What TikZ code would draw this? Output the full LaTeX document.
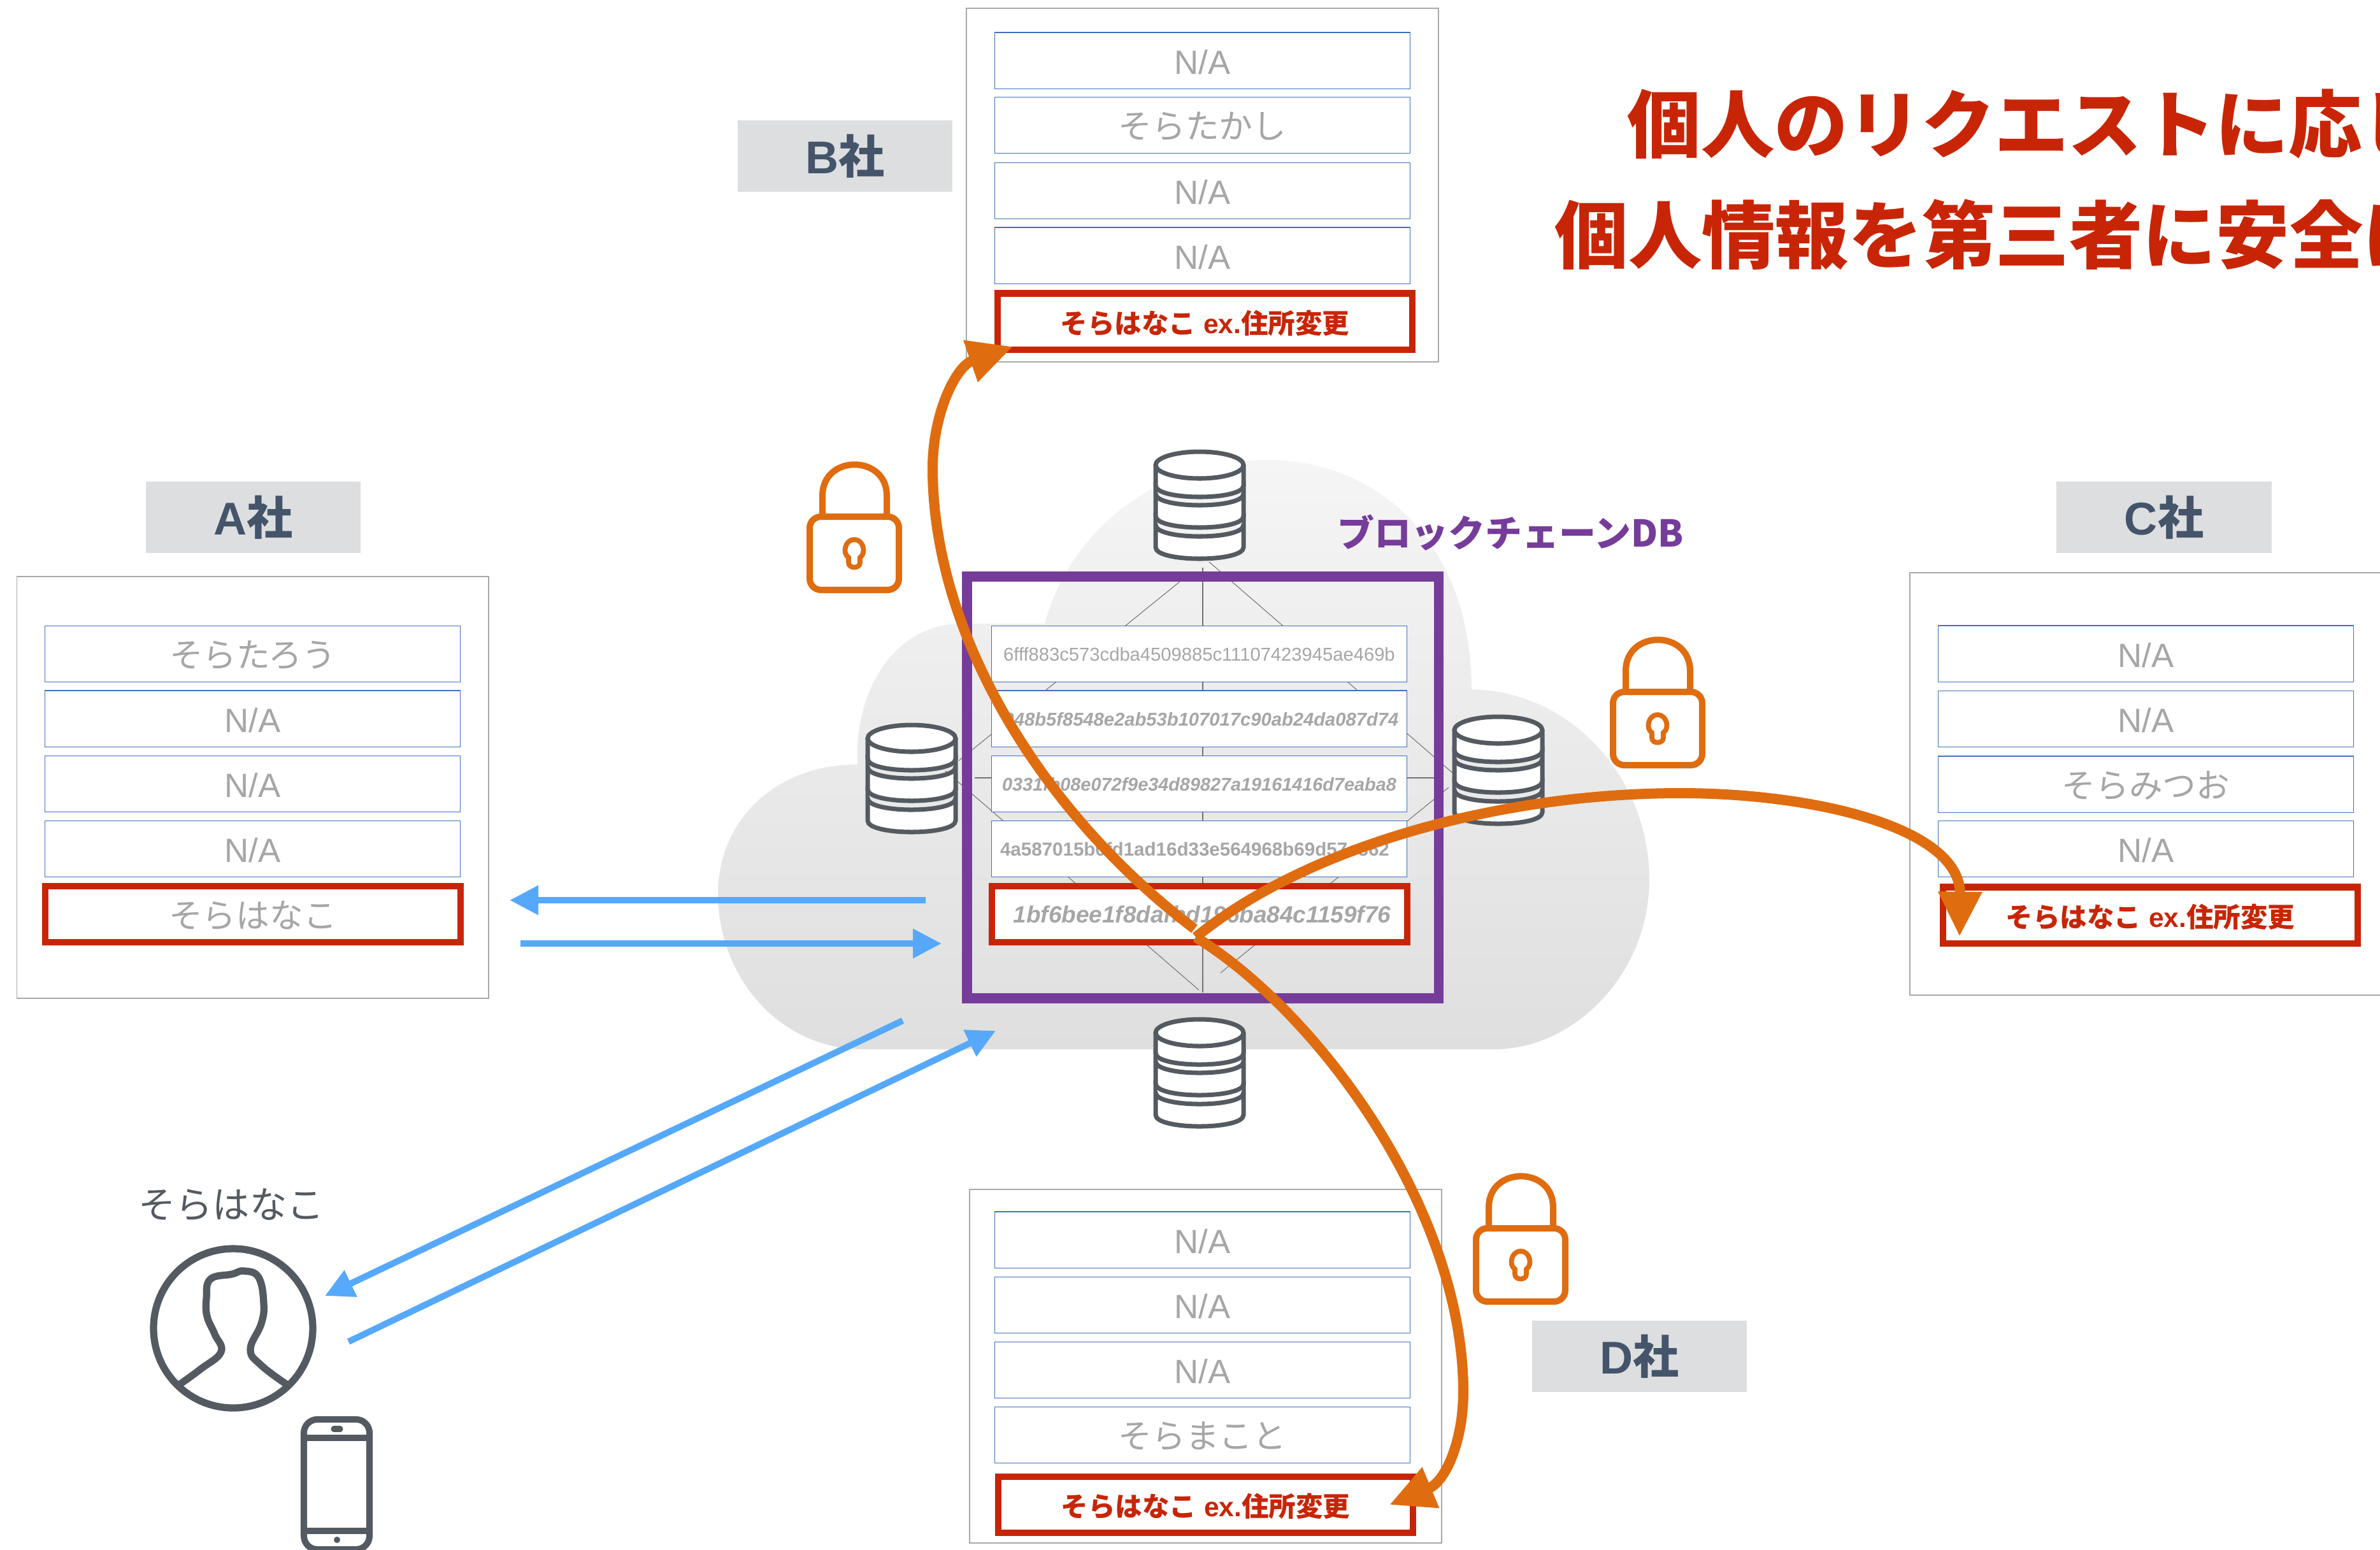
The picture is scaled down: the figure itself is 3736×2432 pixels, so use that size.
\documentclass[tikz,border=0pt]{standalone}
\usepackage{fontspec}
\setmainfont{Liberation Sans}
\newfontfamily\jpfont{Noto Sans CJK JP}
\usetikzlibrary{arrows.meta}
\definecolor{cloudTop}{HTML}{F5F5F5}
\definecolor{cloudBottom}{HTML}{DFDFDF}
\definecolor{rowBlue}{HTML}{3F70BC}
\definecolor{textGrey}{HTML}{A6A6A6}
\definecolor{panelGrey}{HTML}{A8A8A8}
\definecolor{tagGrey}{HTML}{DDDEE0}
\definecolor{tagText}{HTML}{44546A}
\definecolor{iconGrey}{HTML}{545A61}
\definecolor{signalRed}{HTML}{C82506}
\definecolor{chainPurple}{HTML}{763C9A}
\definecolor{lockOrange}{HTML}{E06C10}
\definecolor{userBlue}{HTML}{56A9FA}
\tikzset{
    panel/.style = {draw = panelGrey, fill = white, line width = 0.4pt},
    rowbox/.style = {draw = rowBlue, fill = white, line width = 0.3pt,
                     minimum width = 6.51cm, minimum height = 0.88cm, inner sep = 0pt,
                     text = textGrey, text height = 0.42cm, text depth = 0pt,
                     font = \fontsize{15}{15}\selectfont},
    redrow/.style = {rowbox, draw = signalRed, line width = 2.85pt},
    redtext/.style = {text = signalRed, text height = 0.37cm, font = \fontsize{12.1}{12.1}\selectfont\bfseries},
    tagbox/.style = {fill = tagGrey, minimum width = 3.37cm, minimum height = 1.12cm, inner sep = 0pt,
                     text = tagText, font = \fontsize{20.5}{20.5}\selectfont\bfseries},
    title/.style = {anchor = west, inner sep = 0pt, text = signalRed,
                    font = \jpfont\fontsize{32.8}{32.8}\selectfont\bfseries},
    mesh/.style = {draw = black!55, line width = 0.3pt},
    chainArrow/.style = {-{Triangle[length = 20pt, width = 18.5pt]}, draw = lockOrange, line width = 4.55pt},
    userArrow/.style = {-{Triangle[length = 12.8pt, width = 12.5pt]}, draw = userBlue, line width = 2.85pt},
}
\begin{document}
\begin{tikzpicture}[x = 0.01cm, y = -0.01cm]

\useasboundingbox[clip] (0,0) rectangle (3736,2432);

% cloud
\shade[top color = cloudTop, bottom color = cloudBottom]
    (1356,1647) .. controls (1220,1647) and (1127,1530) .. (1127,1403)
    .. controls (1127,1290) and (1215,1200) .. (1346,1200)
    .. controls (1340,1090) and (1400,979) .. (1510,979)
    -- (1640,979)
    .. controls (1680,830) and (1820,722) .. (1989,722)
    .. controls (2170,722) and (2310,860) .. (2310,1082)
    .. controls (2470,1085) and (2589,1225) .. (2589,1380)
    .. controls (2589,1530) and (2470,1647) .. (2346,1647) -- cycle;

% mesh behind the rows
\foreach \FROM/\TO in {
        {1888,891}/{1888,1558},
        {1530,1221}/{2251,1221},
        {1898,882}/{2280,1213},
        {1852,913}/{1505,1194},
        {1484,1210}/{1882,1554},
        {2274,1236}/{1916,1527}}{
    \draw[mesh] (\FROM) -- (\TO);
    };

% databases
\foreach \XPOS/\YPOS in {
        1883/704,
        1883/1595,
        1431/1133,
        2352/1120}{
    \begin{scope}[shift = {(\XPOS,\YPOS)}, draw = iconGrey, fill = white, line width = 2pt]
    \filldraw (-69,120) -- (-69,155) .. controls (-69,179) and (69,179) .. (69,155) -- (69,120)
        .. controls (69,144) and (-69,144) .. (-69,120) -- cycle;
    \filldraw (-69,71) -- (-69,106) .. controls (-69,130) and (69,130) .. (69,106) -- (69,71)
        .. controls (69,95) and (-69,95) .. (-69,71) -- cycle;
    \filldraw (-69,26) -- (-69,58) .. controls (-69,82) and (69,82) .. (69,58) -- (69,26);
    \filldraw (0,26) ellipse (69 and 21);
    \end{scope}
    };

\node[draw = chainPurple, line width = 4.4pt, minimum width = 7.40cm, minimum height = 6.62cm] (chainBox) at (1888,1236) {};
\node[anchor = center, inner sep = 0pt, text = chainPurple, font = \jpfont\fontsize{16.5}{16.5}\selectfont\bfseries] (chainLabel) at (2371,836) {ブロックチェーンDB};

% hash rows
\foreach \NAME/\YPOS/\FONT/\LABEL in {
        hashRow1/1026.5/{\fontsize{8.3}{8.3}\selectfont}/6fff883c573cdba4509885c11107423945ae469b,
        hashRow2/1128/{\fontsize{8.3}{8.3}\selectfont\bfseries\itshape}/\kern0.06cm 048b5f8548e2ab53b107017c90ab24da087d74,
        hashRow3/1230.5/{\fontsize{8.2}{8.2}\selectfont\bfseries\itshape}/0331fb08e072f9e34d89827a19161416d7eaba8,
        hashRow4/1332.5/{\fontsize{8.4}{8.4}\selectfont\bfseries}/\kern-0.14cm 4a587015b0fd1ad16d33e564968b69d57e362}{
    \node[rowbox, font = \FONT, text height = 0.22cm] (\NAME) at (1882.5,\YPOS) {\LABEL};
    };
\node[redrow, font = \fontsize{10.5}{10.5}\selectfont\bfseries\itshape, text height = 0.27cm] (hashRow5) at (1883,1435) {\kern0.08cm 1bf6bee1f8dafbd196ba84c1159f76};

% company panels
\foreach \NAME/\XONE/\YONE/\XTWO/\YTWO in {
        aPanel/26.5/905/767/1567,
        bPanel/1517/13/2258/568,
        cPanel/2998/899/3780/1562,
        dPanel/1522/1867/2263/2422}{
    \draw[panel] (\XONE,\YONE) rectangle (\XTWO,\YTWO);
    };

\foreach \NAME/\XPOS/\YPOS/\LABEL in {
        aRow1/396.5/1026.5/\jpfont そらたろう,
        aRow2/396.5/1128/{N/A},
        aRow3/396.5/1230.5/{N/A},
        aRow4/396.5/1332.5/{N/A},
        bRow1/1887.5/95/{N/A},
        bRow2/1887.5/196.5/\jpfont そらたかし,
        bRow3/1887.5/299.5/{N/A},
        bRow4/1887.5/401/{N/A},
        cRow1/3368.5/1026/{N/A},
        cRow2/3368.5/1128.5/{N/A},
        cRow3/3368.5/1231/\jpfont そらみつお,
        cRow4/3368.5/1332.5/{N/A},
        dRow1/1887.5/1946/{N/A},
        dRow2/1887.5/2048.5/{N/A},
        dRow3/1887.5/2150.5/{N/A},
        dRow4/1887.5/2252.5/\jpfont そらまこと}{
    \node[rowbox] (\NAME) at (\XPOS,\YPOS) {\LABEL};
    };

\node[redrow] (aRow5) at (397,1435) {\jpfont そらはなこ};
\foreach \NAME/\XPOS/\YPOS in {
        bRow5/1891.5/504.5,
        cRow5/3375.5/1436.5,
        dRow5/1892.5/2361.5}{
    \node[redrow, redtext] (\NAME) at (\XPOS,\YPOS) {{\jpfont そらはなこ} ex.{\jpfont 住所変更}};
    };

% company tags
\foreach \NAME/\XPOS/\YPOS/\LABEL in {
        aTag/397.5/812/A,
        bTag/1326.5/245/B,
        cTag/3397/812/C,
        dTag/2573.5/2129/D}{
    \node[tagbox] (\NAME) at (\XPOS,\YPOS) {\LABEL{\jpfont 社}};
    };

% title
\node[title] (titleOne) at (2554,195) {個人のリクエストに応じ};
\node[title] (titleTwo) at (2440,368) {個人情報を第三者に安全に};

% locks
\foreach \XPOS/\YPOS in {
        1266/723,
        2527/998,
        2312/1840}{
    \begin{scope}[shift = {(\XPOS,\YPOS)}, draw = lockOrange, line width = 2.85pt]
    \draw (25,88) -- (25,55) .. controls (25,-10) and (126,-10) .. (126,55) -- (126,88);
    \draw[fill = white, rounded corners = 5pt] (5,88) rectangle (145,203);
    \draw[line width = 2.2pt] (75,124) .. controls (60,124) and (56,146) .. (66,152) -- (66,160)
        .. controls (66,170) and (84,170) .. (84,160) -- (84,152)
        .. controls (94,146) and (90,124) .. (75,124) -- cycle;
    \end{scope}
    };

% user
\node[inner sep = 0pt, text = iconGrey, font = \jpfont\fontsize{16.6}{16.6}\selectfont] (userLabel) at (363,1891) {そらはなこ};
\draw[iconGrey, line width = 3.2pt] (366,2085) circle (125);
\draw[iconGrey, line width = 3.2pt] plot[smooth, tension = 0.7] coordinates {
    (282,2173) (315,2149) (347,2122) (337,2094) (325,2066) (324,2038) (330,2008) (364,2000)
    (383,1995) (406,2005) (414,2046) (410,2078) (393,2118) (410,2143) (450,2173)};

% phone
\draw[iconGrey, line width = 2.85pt, rounded corners = 6pt] (477,2228) rectangle (580,2432);
\draw[iconGrey, line width = 2.85pt] (477,2257) -- (580,2257);
\draw[iconGrey, line width = 2.85pt] (477,2403) -- (580,2403);
\draw[iconGrey, line width = 2.6pt, line cap = round] (524,2243) -- (534,2243);
\fill[iconGrey] (529,2417) circle (5);

% blue arrows
\coordinate (chainOut) at (1453,1413);
\coordinate (aIn) at (800,1413);
\coordinate (aOut) at (817,1481);
\coordinate (chainIn) at (1478,1481);
\coordinate (chainOutLow) at (1417,1602);
\coordinate (userIn) at (510,2034);
\coordinate (userOut) at (547,2106);
\coordinate (chainInLow) at (1563,1618);
\draw[userArrow] (chainOut) -- (aIn);
\draw[userArrow] (aOut) -- (chainIn);
\draw[userArrow] (chainOutLow) -- (userIn);
\draw[userArrow] (userOut) -- (chainInLow);

% orange curves
\coordinate (hubTop) at (1875,1458);
\coordinate (hub) at (1877,1471);
\coordinate (bTip) at (1590,544);
\coordinate (cTip) at (3076,1470);
\coordinate (dTip) at (2181,2362);
\draw[chainArrow] (hubTop) .. controls (1640,1280) and (1464,1000) .. (1464,735)
    .. controls (1464,650) and (1500,575) .. (bTip);
\draw[chainArrow] (hub) .. controls (2050,1330) and (2350,1245) .. (2638,1245)
    .. controls (2850,1245) and (3078,1300) .. (cTip);
\draw[chainArrow] (hub) .. controls (2070,1590) and (2297,1900) .. (2297,2185)
    .. controls (2297,2260) and (2270,2325) .. (dTip);

\end{tikzpicture}
\end{document}
